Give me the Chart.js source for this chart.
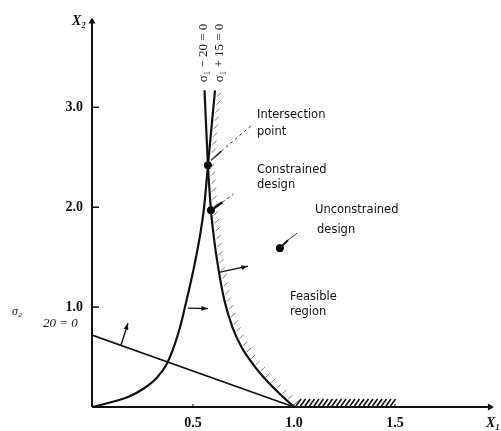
<!DOCTYPE html>
<html>
<head>
<meta charset="utf-8">
<script src="https://cdn.jsdelivr.net/npm/chart.js@4.4.1/dist/chart.umd.min.js"></script>
<style>
body { margin: 0; background: #fff; }
</style>
</head>
<body>
<canvas id="canvas" width="501" height="431"></canvas>
<script>
// curve that starts at the origin (sigma1 + 15 = 0)
const curveAx = [0, 0.08, 0.178, 0.26, 0.32, 0.37, 0.41, 0.436, 0.458, 0.48, 0.505, 0.535, 0.555, 0.574, 0.609];
const curveAy = [0, 0.04, 0.10, 0.19, 0.29, 0.43, 0.63, 0.80, 0.98, 1.17, 1.40, 1.72, 2.0, 2.42, 3.17];
// curve that ends at (1, 0) (sigma1 - 20 = 0)
const curveBx = [1.0, 0.925, 0.862, 0.8, 0.74, 0.695, 0.655, 0.627, 0.605, 0.589, 0.574, 0.557];
const curveBy = [0, 0.14, 0.27, 0.42, 0.6, 0.8, 1.07, 1.37, 1.67, 1.97, 2.42, 3.17];
// straight constraint (sigma2 - 20 = 0)
const lineX = [0, 1.0];
const lineY = [0.72, 0];
// intersection point, constrained design, unconstrained design
const designX = [0.574, 0.589, 0.93];
const designY = [2.42, 1.97, 1.59];
// bound on x1 that is hatched along the axis
const axisHatchX = [1.0, 1.5];

const xTicks = [0.5, 1.0, 1.5];
const yTicks = [1, 2, 3];

//arrows that point into the feasible side [x0, y0, x1, y1]
const arrows = [
    [0.144, 0.62, 0.178, 0.84],
    [0.475, 0.99, 0.574, 0.985],
    [0.634, 1.35, 0.772, 1.41]
];

const toPts = (xs, ys) => xs.map((v, i) => ({x: v, y: ys[i]}));

const seg = (pts, width, extra) => Object.assign({ data: pts, showLine: true, borderColor: '#111', borderWidth: width, pointRadius: 0 }, extra || {});

const datasets = [];
datasets.push(seg(toPts(curveAx, curveAy), 2.2, { cubicInterpolationMode: 'monotone' }));
datasets.push(seg(toPts(curveBx, curveBy), 2.2, { cubicInterpolationMode: 'monotone' }));
datasets.push(seg(toPts(lineX, lineY), 1.6));

arrows.forEach(a => {
    datasets.push(seg([{x: a[0], y: a[1]}, {x: a[2], y: a[3]}], 1.4, { arrow: true }));
});

//leader lines to the notes
datasets.push(seg([{x: 0.59, y: 2.47}, {x: 0.64, y: 2.56}], 1.6));
datasets.push(seg([{x: 0.64, y: 2.56}, {x: 0.79, y: 2.82}], 1, { borderColor: '#333', borderDash: [3, 3] }));
datasets.push(seg([{x: 0.589, y: 1.97}, {x: 0.645, y: 2.05}], 2.4));
datasets.push(seg([{x: 0.645, y: 2.05}, {x: 0.7, y: 2.13}], 1, { borderColor: '#333', borderDash: [3, 3] }));
datasets.push(seg([{x: 0.93, y: 1.59}, {x: 0.97, y: 1.67}], 2));
datasets.push(seg([{x: 0.97, y: 1.67}, {x: 1.015, y: 1.74}], 1, { borderColor: '#333' }));

datasets.push({ data: toPts(designX, designY), showLine: false, pointRadius: 3.6, pointBackgroundColor: '#000', pointBorderColor: '#000' });

const notes = [
    ['Intersection', 0.817, 2.92], ['point', 0.817, 2.75],
    ['Constrained', 0.817, 2.37], ['design', 0.817, 2.22],
    ['Unconstrained', 1.104, 1.97], ['design', 1.114, 1.77],
    ['Feasible', 0.98, 1.1], ['region', 0.98, 0.95]
];

const drawHatch = (ctx, pts, step, len, off) => {
    let carry = step / 2;
    for (let i = 0; i < pts.length - 1; i++) {
        const [ax, ay] = pts[i];
        const [bx, by] = pts[i + 1];
        const l = Math.hypot(bx - ax, by - ay);
        if (l === 0) continue;
        //normal on the right side of the curve
        let nx = -(by - ay) / l, ny = (bx - ax) / l;
        if (nx < 0) { nx = -nx; ny = -ny; }
        let d = carry;
        while (d < l) {
            const px = ax + (bx - ax) * d / l + nx * off;
            const py = ay + (by - ay) * d / l + ny * off;
            ctx.beginPath();
            ctx.moveTo(px - len / 2, py + len / 2);
            ctx.lineTo(px + len / 2, py - len / 2);
            ctx.stroke();
            d += step;
        }
        carry = d - l;
    }
};

const extras = {
    id: 'extras',
    afterDraw(chart) {
        const ctx = chart.ctx;
        const x = chart.scales.x, y = chart.scales.y;
        const X = v => x.getPixelForValue(v), Y = v => y.getPixelForValue(v);
        const x0 = X(0), y0 = Y(0);
        ctx.save();
        ctx.strokeStyle = '#111';
        ctx.fillStyle = '#111';

        //axes with arrow heads
        ctx.lineWidth = 2;
        ctx.beginPath();
        ctx.moveTo(x0, y0); ctx.lineTo(X(1.96), y0);
        ctx.moveTo(x0, y0); ctx.lineTo(x0, Y(3.86));
        ctx.stroke();
        ctx.beginPath();
        ctx.moveTo(X(1.99), y0); ctx.lineTo(X(1.96), y0 - 3.5); ctx.lineTo(X(1.96), y0 + 3.5); ctx.closePath();
        ctx.moveTo(x0, Y(3.9)); ctx.lineTo(x0 - 3.5, Y(3.84)); ctx.lineTo(x0 + 3.5, Y(3.84)); ctx.closePath();
        ctx.fill();

        //tick marks
        ctx.lineWidth = 1.5;
        yTicks.forEach(t => { ctx.beginPath(); ctx.moveTo(x0, Y(t)); ctx.lineTo(x0 + 7, Y(t)); ctx.stroke(); });
        ctx.lineWidth = 1;
        xTicks.forEach(t => { ctx.beginPath(); ctx.moveTo(X(t), y0); ctx.lineTo(X(t), y0 - 3); ctx.stroke(); });

        //arrow heads
        chart.data.datasets.forEach((ds, i) => {
            if (!ds.arrow) return;
            const m = chart.getDatasetMeta(i).data;
            const a = m[0], b = m[1];
            const ang = Math.atan2(b.y - a.y, b.x - a.x);
            ctx.beginPath();
            ctx.moveTo(b.x, b.y);
            ctx.lineTo(b.x - 7 * Math.cos(ang - 0.35), b.y - 7 * Math.sin(ang - 0.35));
            ctx.lineTo(b.x - 7 * Math.cos(ang + 0.35), b.y - 7 * Math.sin(ang + 0.35));
            ctx.closePath();
            ctx.fill();
        });

        //hatching on the feasible boundary
        const boundary = [];
        for (let i = curveAx.length - 1; i >= 13; i--) boundary.push([X(curveAx[i]), Y(curveAy[i])]);
        for (let i = 10; i >= 0; i--) boundary.push([X(curveBx[i]), Y(curveBy[i])]);
        ctx.strokeStyle = '#777';
        ctx.lineWidth = 1;
        drawHatch(ctx, boundary, 8, 4, 4.5);
        ctx.strokeStyle = '#111';
        ctx.lineWidth = 1.6;
        for (let px = X(axisHatchX[0]) + 2; px < X(axisHatchX[1]); px += 4.5) {
            ctx.beginPath();
            ctx.moveTo(px, y0 - 1);
            ctx.lineTo(px + 5, y0 - 8);
            ctx.stroke();
        }

        //notes
        ctx.fillStyle = '#111';
        ctx.font = '11.5px "DejaVu Sans"';
        ctx.textAlign = 'left';
        ctx.textBaseline = 'middle';
        notes.forEach(n => ctx.fillText(n[0], X(n[1]), Y(n[2])));

        ctx.font = 'italic 12px "Liberation Serif"';
        ctx.fillText('σ₂', 12, Y(0.95));
        ctx.font = 'italic 13px "Liberation Serif"';
        ctx.fillText('20 = 0', 43, Y(0.84));
        ctx.font = 'italic bold 14px "Liberation Serif"';
        ctx.fillText('X₂', x0 - 20, Y(3.86));
        ctx.fillText('X₁', X(1.95), y0 + 16);

        //rotated constraint names
        ctx.font = '13px "Liberation Serif"';
        ctx.textBaseline = 'alphabetic';
        [['σ₁ − 20 = 0', 0.57], ['σ₁ + 15 = 0', 0.65]].forEach(l => {
            ctx.save();
            ctx.translate(X(l[1]), Y(3.25));
            ctx.rotate(-Math.PI / 2);
            ctx.fillText(l[0], 0, 0);
            ctx.restore();
        });
        ctx.restore();
    }
};

new Chart(document.getElementById('canvas').getContext('2d'), {
    type: 'scatter',
    data: { datasets: datasets },
    options: {
        responsive: false,
        animation: false,
        layout: { padding: { left: 12, right: 5, top: 17, bottom: 0 } },
        plugins: { legend: { display: false }, tooltip: { enabled: false } },
        elements: { line: { fill: false } },
        scales: {
            x: {
                type: 'linear', min: 0, max: 2,
                grid: { display: false, drawTicks: false }, border: { display: false },
                afterBuildTicks: s => { s.ticks = xTicks.map(v => ({value: v})); },
                afterFit: s => { s.height = 24; },
                ticks: { color: '#111', padding: 8, font: { family: 'Liberation Serif', size: 14, weight: 'bold' }, callback: v => v.toFixed(1) }
            },
            y: {
                type: 'linear', min: 0, max: 3.9,
                grid: { display: false, drawTicks: false }, border: { display: false },
                afterBuildTicks: s => { s.ticks = yTicks.map(v => ({value: v})); },
                afterFit: s => { s.width = 80; },
                ticks: { color: '#111', padding: 9, font: { family: 'Liberation Serif', size: 14, weight: 'bold' }, callback: v => v.toFixed(1) }
            }
        }
    },
    plugins: [extras]
});
</script>
</body>
</html>
